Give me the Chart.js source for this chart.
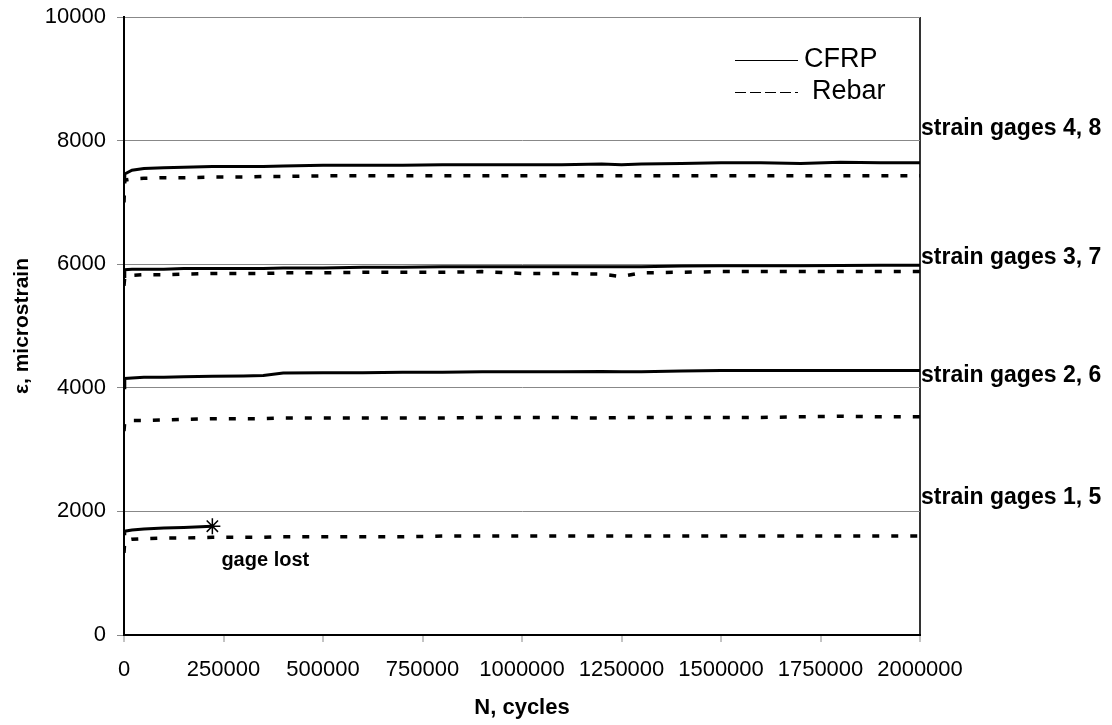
<!DOCTYPE html>
<html lang="en">
<head>
  <meta charset="UTF-8">
  <title>Strain vs cycles</title>
  <script src="https://cdn.jsdelivr.net/npm/chart.js"></script>
  <style>
    body { margin: 0; background: #fff; }
    .chart-box { width: 1112px; height: 725px; }
  </style>
</head>
<body>
  <div class="chart-box"><canvas id="strainChart"></canvas></div>
  <script>
    // load cycles (N)
    const cycles = [0, 2000, 20000, 50000, 100000, 150000, 222000, 300000, 350000, 400000, 500000, 600000, 700000, 800000,
      900000, 1000000, 1100000, 1200000, 1250000, 1300000, 1400000, 1500000, 1600000, 1700000, 1800000, 1900000, 2000000];

    // microstrain, CFRP gages 4,3,2,1 and rebar gages 8,7,6,5
    const cfrp4 = [7350, 7460, 7520, 7550, 7560, 7570, 7580, 7580, 7580, 7590, 7600, 7600, 7600, 7610, 7610, 7610, 7610, 7620, 7610, 7620, 7630, 7640, 7640, 7630, 7650, 7640, 7640];
    const rebar8 = [7000, 7360, 7380, 7390, 7400, 7400, 7410, 7410, 7420, 7420, 7430, 7430, 7430, 7430, 7430, 7430, 7430, 7430, 7430, 7430, 7430, 7430, 7430, 7430, 7430, 7430, 7430];
    const cfrp3 = [5800, 5910, 5920, 5920, 5920, 5930, 5930, 5930, 5930, 5940, 5940, 5950, 5950, 5960, 5960, 5960, 5960, 5960, 5960, 5960, 5970, 5975, 5975, 5975, 5980, 5985, 5985];
    const rebar7 = [5650, 5800, 5820, 5830, 5830, 5840, 5850, 5850, 5850, 5860, 5860, 5870, 5870, 5870, 5880, 5850, 5850, 5840, 5800, 5860, 5870, 5880, 5880, 5880, 5880, 5880, 5880];
    const cfrp2 = [4000, 4150, 4160, 4170, 4170, 4180, 4185, 4190, 4200, 4240, 4245, 4245, 4250, 4250, 4260, 4260, 4260, 4265, 4260, 4260, 4270, 4280, 4280, 4280, 4280, 4280, 4280];
    const rebar6 = [3300, 3460, 3470, 3470, 3480, 3490, 3500, 3500, 3500, 3510, 3510, 3510, 3510, 3510, 3520, 3520, 3520, 3510, 3520, 3520, 3520, 3520, 3520, 3530, 3540, 3530, 3530];
    const cfrp1 = [1640, 1680, 1700, 1715, 1730, 1740, 1760];
    const rebar5 = [1330, 1530, 1550, 1560, 1570, 1570, 1580, 1580, 1580, 1590, 1590, 1590, 1590, 1600, 1600, 1600, 1600, 1600, 1600, 1600, 1600, 1600, 1600, 1600, 1600, 1600, 1600];

    const gageLabels = ['strain gages 4, 8', 'strain gages 3, 7', 'strain gages 2, 6', 'strain gages 1, 5'];
    const gageLabelY = [8200, 6100, 4200, 2220];
    const lostNote = { text: 'gage lost', x: 355000, y: 1200 };

    const FONT = "'Liberation Sans', Arial, sans-serif";

    function pts(vals) {
      return vals.map((v, i) => ({ x: cycles[i], y: v }));
    }

    function cfrpSet(label, vals, withStar) {
      return {
        label: label, data: pts(vals), borderColor: '#000', borderWidth: 3,
        pointRadius: withStar ? vals.map((v, i) => i === vals.length - 1 ? 8 : 0) : 0,
        pointStyle: 'star', pointBorderColor: '#000', pointBorderWidth: 1.5,
        fill: false, tension: 0
      };
    }
    function rebarSet(label, vals) {
      return {
        label: label, data: pts(vals), borderColor: '#000', borderWidth: 3.5,
        borderDash: [7, 12], borderCapStyle: 'butt', pointRadius: 0, fill: false, tension: 0
      };
    }

    // text on the right side, "gage lost" note and the little legend box
    const annotations = {
      id: 'annotations',
      afterDraw(chart) {
        const { ctx, chartArea, scales } = chart;
        ctx.save();
        ctx.fillStyle = '#000';
        ctx.font = 'bold 23px ' + FONT;
        ctx.textAlign = 'left';
        ctx.textBaseline = 'middle';
        gageLabels.forEach((t, i) => {
          ctx.fillText(t, chartArea.right + 1, scales.y.getPixelForValue(gageLabelY[i]));
        });
        ctx.font = 'bold 20px ' + FONT;
        ctx.textAlign = 'center';
        ctx.fillText(lostNote.text, scales.x.getPixelForValue(lostNote.x), scales.y.getPixelForValue(lostNote.y));

        // legend
        ctx.font = '27px ' + FONT;
        ctx.textAlign = 'left';
        ctx.strokeStyle = '#000';
        ctx.lineWidth = 1;
        ctx.beginPath(); ctx.moveTo(735, 60.5); ctx.lineTo(798, 60.5); ctx.stroke();
        ctx.fillText('CFRP', 804, 60);
        ctx.setLineDash([11, 4]);
        ctx.beginPath(); ctx.moveTo(735, 92.5); ctx.lineTo(798, 92.5); ctx.stroke();
        ctx.setLineDash([]);
        ctx.fillText('Rebar', 812, 92);
        ctx.restore();
      }
    };

    new Chart(document.getElementById('strainChart'), {
      type: 'line',
      data: {
        datasets: [
          cfrpSet('CFRP 4', cfrp4), rebarSet('Rebar 8', rebar8),
          cfrpSet('CFRP 3', cfrp3), rebarSet('Rebar 7', rebar7),
          cfrpSet('CFRP 2', cfrp2), rebarSet('Rebar 6', rebar6),
          cfrpSet('CFRP 1', cfrp1, true), rebarSet('Rebar 5', rebar5)
        ]
      },
      options: {
        responsive: true,
        maintainAspectRatio: false,
        animation: false,
        layout: { padding: { top: 17, right: 192, left: 0, bottom: 0 } },
        plugins: { legend: { display: false }, tooltip: { enabled: false } },
        scales: {
          x: {
            type: 'linear', min: 0, max: 2000000,
            afterFit: s => { s.height = 90; },
            ticks: { stepSize: 250000, color: '#000', padding: 15, font: { family: FONT, size: 22 },
              callback: v => String(v) },
            grid: {
              color: c => c.tick && c.tick.value === 2000000 ? '#333' : 'rgba(0,0,0,0)',
              lineWidth: 2, tickColor: '#888', tickWidth: 1, tickLength: 7
            },
            border: { color: '#000', width: 2 },
            title: { display: true, text: 'N, cycles', color: '#000', padding: { bottom: 4 },
              font: { family: FONT, size: 22, weight: 'bold' } }
          },
          y: {
            min: 0, max: 10000,
            afterFit: s => { s.width = 124; s.paddingTop = 0; s.paddingBottom = 0; },
            ticks: { stepSize: 2000, color: '#000', padding: 11, font: { family: FONT, size: 22 },
              callback: v => String(v) },
            grid: { color: '#888', lineWidth: 1, tickLength: 7 },
            border: { color: '#000', width: 2 },
            title: { display: true, text: 'ε, microstrain', color: '#000', padding: { top: 10 },
              font: { family: FONT, size: 21, weight: 'bold' } }
          }
        }
      },
      plugins: [annotations]
    });
  </script>
</body>
</html>
